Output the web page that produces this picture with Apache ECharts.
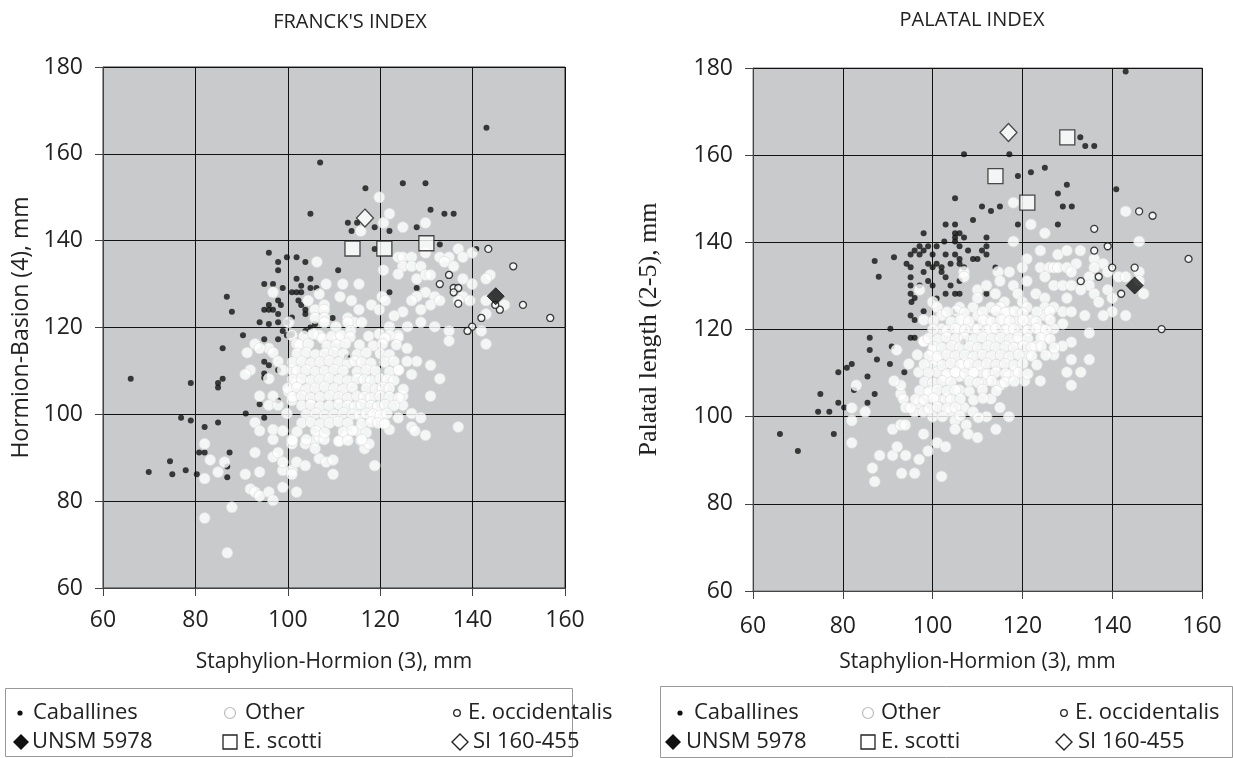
<!DOCTYPE html>
<html><head><meta charset="utf-8">
<script src="https://cdn.jsdelivr.net/npm/echarts/dist/echarts.min.js"></script>
<style>html,body{margin:0;padding:0;background:#fff}#c{width:1233px;height:758px}</style>
</head><body><div id="c"></div>
<script>
// ---------- DATA ----------
const chartTitles = ["FRANCK'S INDEX", "PALATAL INDEX"];
const xAxisName = "Staphylion-Hormion (3), mm";
const yAxisNames = ["Hormion-Basion (4), mm", "Palatal length (2-5), mm"];
const legendLabels = ["Caballines", "Other", "E. occidentalis", "UNSM 5978", "E. scotti", "SI 160-455"];
const xRange = [60, 160];
const yRange = [60, 180];

// Left chart: Franck's index
const cabLeft = [[143,166],[107,158],[116.8,152.1],[124.9,153.2],[129.8,153.2],[104.9,146.2],[130.9,147.1],[133.9,146.2],[135.9,146.2],[113,144.1],[115,144.1],[113.8,142.2],[118.8,143.1],[122,142.2],[127.9,143.1],[118.8,138.1],[132.9,139.1],[140.8,138.1],[95.9,137.2],[97.9,135.1],[97.9,133.2],[99.8,136.2],[101.9,136.2],[103.8,135.1],[110.9,133.2],[94.9,130],[96.8,130],[98.9,129.1],[101.9,131.2],[102.9,129.6],[104.9,131.2],[104.9,129.1],[106.2,129.1],[100.9,128.1],[101.9,128.1],[102.9,128.1],[127.9,129.1],[122,128.1],[86.8,127.1],[87.9,123.6],[97.9,126.2],[98.5,125.2],[95.9,125.2],[94.9,124.1],[95.9,124.1],[96.8,124.1],[97.9,123.1],[102.3,126.2],[102.9,125.2],[103.8,124.1],[100.9,122.3],[103.8,123.1],[93.9,121.2],[95.9,120.8],[97.9,121.2],[99.8,121.2],[98.9,119.2],[100.9,118.5],[103.8,119.2],[104.9,120],[105.9,120.8],[109.7,122.2],[90.3,118.2],[85.9,115.2],[94.9,117.3],[97.9,117.3],[99.8,118.2],[100.6,118.2],[94.9,112.1],[95.9,111.3],[97.9,110.2],[112.8,113.2],[94.9,109.4],[94.9,108.4],[66,108.2],[79,107.2],[84.9,107.2],[84.9,106.2],[85.9,108.2],[97.9,103.2],[93.9,102.3],[90.9,100.2],[94.9,99.2],[76.9,99.2],[79,98.6],[84.9,98.1],[82,97.1],[80.8,91.2],[82,91.2],[87.4,91.2],[74.5,89.2],[77.9,87.1],[69.9,86.7],[75,86.2],[80.3,86.2],[86.9,85.5],[86.9,88]];
const otherLeft = [[119.8,150],[122,146.2],[120.7,144.1],[115.8,142.2],[124.9,143.1],[129.8,144.1],[136.9,138.1],[139.9,137.2],[123.9,136.2],[124.9,136.2],[126.8,136.2],[129.8,137.2],[132.9,136.2],[134.9,136.2],[137.9,136.2],[124.9,134.1],[126.8,134.1],[128.8,134.1],[133.9,135.1],[135.9,134.1],[106.3,135.1],[120.7,133.2],[123.9,132.3],[127.9,131.2],[129.8,132.1],[130.9,132.1],[137.9,131.2],[143.8,132.1],[142.9,131.2],[139.9,130],[108.3,130],[111.9,130],[115.4,130],[96.8,128.1],[106.8,127.7],[129.8,128.1],[131.8,127.1],[127.9,127.1],[137.9,127.1],[139.4,126.2],[142.9,126.2],[104.4,126.2],[107.9,125.2],[111.3,127.1],[113.8,126.2],[120.4,127.1],[121.1,126.2],[118.1,125.2],[126.8,126.2],[130.9,125.2],[132.9,126.2],[146.9,125.2],[136.9,126.2],[105.9,124.1],[107.9,124.1],[115.4,124.1],[119.8,124.1],[124.9,123.6],[128.8,124.1],[142.9,123.1],[105.9,122.2],[107.9,122.2],[113,122.2],[114.4,121.2],[116,121.2],[113,121.2],[123,122.7],[128.8,121.2],[100.2,121.2],[107.9,121.2],[110.4,120.2],[113.6,119.2],[122,120.2],[125.9,120.2],[131.8,120.2],[134.9,119.2],[141.9,119.2],[142.9,116.2],[134.9,116.9],[92.9,116.2],[100.9,118.2],[101.9,116.2],[106.8,118.2],[110.9,117.5],[119.8,118.5],[123.9,118.2],
[91.2,114.2],[91.9,110.2],[90.8,109.2],[95.9,115.2],[93.9,115.2],[96.8,114.2],[97.9,112.2],[98.9,110.2],[100.9,110.2],[95.9,108.2],[101.9,107.2],[100.2,105.2],[100.9,103.2],[96.8,104.2],[93.9,104.2],[95.9,102.1],[97.9,102.1],[99.8,100.2],[92.9,98.1],[93.9,96.2],[96.8,94.2],[96.8,96.5],[98.9,96.2],[100.9,94.2],[100.9,93.2],[92.9,91.2],[96.8,90.2],[97.9,91.2],[98.9,87.1],[100.9,87.1],[100.9,86.2],[93.9,86.7],[90.8,86.2],[91.9,82.8],[92.9,82.1],[93.9,81.2],[95.9,82.1],[96.8,80.2],[98.9,83.2],[101.9,82.1],[98.9,89],[101.9,89],[103.8,88.2],[106.8,89.8],[108.3,89],[109.8,89.5],[109.8,86.2],[103.8,93.2],[105.9,94],[106.8,94.8],[107.9,94.2],[105.9,92.1],[82,93.2],[83.2,89.5],[82,85.2],[84.9,86.7],[86.3,89],[87.9,78.6],[82,76.1],[86.9,68.1],[118.8,88.2],[116.6,92.1],[117.6,93.2],[115.8,94],[112.8,95.2],[111.3,94],[136.9,97.1],[129.8,95.2],[126.8,100.2],[128.8,99.2],[126.8,97.1],[127.5,96.2],[130.9,104.2],[132.9,108.2],[130.9,111.3],[126.8,109.2],[127.9,112.2],[125.8,115.2],[125.8,112.2],[123.9,110.2],[123.9,117.7],[122,118.2],[124.9,104.2],[124.9,102.1],[123.9,99.2],[122,96.5],[120.7,98.1],[119.8,100.2],[118.1,99.2],[115,96.2],
[103.5,118],[105.5,118.5],[107.5,117.5],[109.5,118],[111.5,118.2],[113.5,117.8],[117.5,118],[121,117.5],[102.5,116],[104.5,116.2],[108.5,115.8],[110.5,116],[112.5,116.3],[115.5,116],[118.5,115.8],[120.5,116.2],[123.5,116],[102,114],[104,114.2],[106,113.8],[108,114],[110,114.3],[112,114],[115,113.8],[117,114.2],[120,114],[122,113.8],[101,112],[103,112.2],[105,111.8],[107,112],[109,112.3],[111,112],[113,111.8],[114.5,112.2],[116,112],[118,111.8],[121,112],[123,112.2],[102,110],[104,110.2],[106,109.8],[108,110],[110,110.3],[112,110],[115,109.8],[117,110.2],[119,110],[122,109.8],[124,110.2],[101,108],[103,108.2],[105,107.8],[107,108],[109,108.3],[111,108],[113,107.8],[115,108.2],[116.5,108],[118,107.8],[120,108.2],[121.5,108],[123,107.8],[100,106],[102,106.2],[104,105.8],[106,106],[108,106.3],[110,106],[112,105.8],[114,106.2],[117,106],[119,105.8],[120.5,106.2],[122,106],[125,105.8],[101,104],[103,104.2],[105,103.8],[107,104],[109,104.3],[111,104],[113,103.8],[115,104.2],[116.5,104],[118,103.8],[120,104.2],[122,104],[124,103.8],[103,102],[105,102.2],[107,101.8],[109,102],[111,102.3],[113,102],[114.5,101.8],[116,102.2],[118,102],[119.5,101.8],[121,102.2],[123,102],[104,100],[106,100.2],[108,99.8],[110,100],[112,100.3],[114,100],[115.5,99.8],[117,100.2],[118.5,100],[120,99.8],[121.5,100.2],[103,98],[105,98.2],[107,97.8],[109,98],[111,98.3],[113,98],[116,97.8],[118,98.2],[119.5,98],[121,97.8],[102,96],[106,96.2],[108,95.8],[112,96],[114,96.3],[117,95.8],[101,94],[104,94.2],[111,93.8],[113,94],[116,94.2]];
const occLeft = [[143.4,138.1],[148.8,134.1],[134.9,132.1],[132.9,130],[135.9,129.1],[136.9,129.1],[135.9,128.1],[136.9,125.5],[150.9,125.2],[156.8,122.2],[141.9,122.2],[145.9,124.1],[144.9,125.2],[139.9,120.2],[138.9,119.2]];
const unsmLeft = [[145,127.2]];
const scottiLeft = [[114,138.2],[120.9,138.2],[130,139.4]];
const siLeft = [[116.7,145.2]];

// Right chart: Palatal index
const cabRight = [[143,179.2],[132.9,164.1],[134,162.1],[136,162.1],[107,160.2],[117.1,160.2],[119,155.2],[121.9,156.1],[125,157.1],[129.9,153.2],[127.9,151.2],[140.9,152.2],[105,150.1],[111,148.2],[113,147.2],[115,148.2],[129,148.2],[131,148.2],[109,145.1],[119,144.1],[127.9,144.1],[102.9,144.1],[105,144.1],[98,142.1],[105,142.1],[106,142.1],[102.6,140.2],[105,141.1],[107,141.1],[112,141.1],[97.1,139.1],[99,139.1],[100.9,139.1],[105,140.2],[106,139.1],[107.9,138.1],[112,139.1],[111,138.1],[96,138.1],[98,138.1],[95.1,137.2],[97.1,137.2],[100,137.2],[102.9,137.2],[105,137.2],[106,136.2],[109,136.2],[110,136.2],[112,137.2],[91.4,136.6],[87.1,135.7],[94.2,135.1],[95.1,134.3],[99,135.1],[100,134.3],[100.9,135.1],[102,134.3],[104,135.1],[106,135.1],[107,134.3],[114,134.2],[95.1,132],[98,133.2],[102,133.2],[102.9,132],[88,132.1],[95.1,130.1],[97.1,130.1],[99,131.1],[100,130.1],[104,130.1],[106,131.1],[95.1,128.2],[96,127.2],[102.9,128.2],[105,128.2],[106,128.2],[112,128.2],[95.3,126.3],[100.9,127.1],[95.1,123.2],[96,122.2],[98,124.2],[105,124.2],[90.6,120.2],[86,118.1],[95.1,118.1],[96,118.1],[86,115.3],[90.9,116.1],[87.6,113.1],[82,112.1],[80.9,111.2],[79,110.2],[90.5,112.1],[85.5,109.2],[82.5,106.1],[75,105.2],[87.1,105.2],[79,103.2],[85.5,103.2],[80.3,102.1],[74.5,101.1],[77,101.1],[66,96],[78,96],[70,92.1],[93.7,110.2],[106.8,117.2]];
const otherRight = [[118,149.1],[121.9,144.1],[125,142.1],[118,140.2],[143,147.1],[146,140.2],[124,138.1],[127.9,137.2],[129.9,138.1],[132.9,138.1],[121,136.2],[132,135.1],[136,136.2],[138,135.1],[120,134.2],[124,134.2],[126,134.2],[127,134.2],[127.9,134.2],[129.9,134.2],[136,134.2],[139,133.2],[141.4,132.1],[143,132.1],[146,133.2],[146,131.1],[117.1,133.2],[114.6,133.2],[121,131.1],[125,132.1],[130.9,133.2],[134.9,132.1],[115,131.1],[107,133.2],[107,132.1],[97.1,129.1],[110,129.1],[112,130.1],[118,130.1],[127,130.1],[129,130.1],[130.9,130.1],[134.9,130.1],[139,129.1],[147,128.2],[133,129.1],[136,128.2],[123,128.2],[119,128.2],[114,128.2],[110,127.2],[116,126.3],[120,126.3],[125,127.2],[129.9,127.2],[137,126.3],[140,127.2],[100,126.3],[101,125.1],[106,125.1],[109,125.1],[113,125.1],[115,125.1],[117,124],[121,125.1],[125,125.1],[127,125.1],[129,124.1],[130.9,124.1],[133.9,123.2],[140,124.1],[138,123.2],[143,123.2],[98,122.2],[102,123.2],[107,122.2],[110,123.2],[112,122.2],[116,122.2],[119,122.2],[121.9,122.2],[125,123.2],[129,121.3],[134.9,119.2],[102,120.2],[106,120.2],[109,120.2],[113,120.2],[117,120.2],[120,120.2],[124,120.2],[127,120.2],[130.9,117.1],[98.1,117.3],
[92,115.3],[94.7,112.1],[96.6,114.2],[98,117.3],[100,115.1],[100.9,113.1],[100,112.1],[96.9,110.2],[101,110.2],[102.9,109.2],[106,109.2],[105,110.2],[107,112.1],[109,110.2],[111,110.2],[112,108.2],[115,107.2],[117,109.2],[118,110.2],[120.5,108.2],[124,108.2],[129.9,110.2],[133,110.2],[130.9,107.2],[134.9,113.1],[130.9,113.1],[128.9,116.2],[127,114.2],[125,118.2],[121,114.2],[123,116.2],[119,117.3],[92.9,105.2],[93.5,104],[94,102.1],[96,101.1],[97,103.1],[99,105.2],[98,101.1],[100,100],[101,104.1],[102.9,104.1],[104,101.1],[105,99.1],[106,106.1],[107,102.1],[109,101.1],[112,100],[113,104.1],[115,102.1],[117,100],[114.1,97.1],[105,97.1],[107.5,98.1],[107.9,96],[110,95.2],[98,96],[101,94],[102.9,93.1],[99,92.1],[102,86.3],[97,90.2],[94,91.1],[91.1,91.1],[88.2,91.1],[92.1,93.1],[93.1,87],[96,87],[86.6,88.2],[87.1,85.1],[91.1,97.1],[92.9,98.1],[93.9,98.1],[82,102],[82,99.1],[82,94],[85,101.1],[83,107.2],[92.9,107.2],[91.4,108.2],
[103.2,124],[105.3,124.3],[107.1,123.8],[111.2,124.1],[114.1,124.3],[116.2,123.9],[118.3,124.2],[120.1,123.8],[123.2,124.1],[126.1,124.2],[100.2,122],[104.1,121.8],[106.2,122.2],[108.1,121.9],[111.2,122.1],[113.1,121.8],[115.2,122.2],[117.1,121.9],[120.2,122.1],[123.1,121.8],[126.2,122.2],[100.1,120],[103.2,119.8],[105.1,120.2],[107.2,119.9],[110.1,120.1],[112.2,119.8],[114.1,120.2],[116.2,119.9],[118.1,120.1],[121.2,119.8],[123.1,120.2],[125.2,119.9],[99.1,118],[101.2,117.8],[103.1,118.2],[105.2,117.9],[107.1,118.1],[109.2,117.8],[111.1,118.2],[113.2,117.9],[115.1,118.1],[117.2,117.8],[119.1,118.2],[121.2,117.9],[124.1,118.1],[126.2,117.8],[100.2,116],[102.1,115.8],[104.2,116.2],[106.1,115.9],[108.2,116.1],[110.1,115.8],[112.2,116.2],[114.1,115.9],[116.2,116.1],[118.1,115.8],[120.2,116.2],[122.1,115.9],[124.2,116.1],[127.1,115.8],[99.2,114],[101.1,113.8],[103.2,114.2],[105.1,113.9],[107.2,114.1],[109.1,113.8],[111.2,114.2],[113.1,113.9],[115.2,114.1],[117.1,113.8],[119.2,114.2],[122.1,113.9],[125.2,114.1],[98.1,112],[102.2,111.8],[104.1,112.2],[106.2,111.9],[108.1,112.1],[110.2,111.8],[112.1,112.2],[114.2,111.9],[116.1,112.1],[118.2,111.8],[120.1,112.2],[123.2,111.9],[99.1,110],[103.2,109.8],[105.1,110.2],[107.2,109.9],[109.1,110.1],[112.2,109.8],[114.1,110.2],[116.2,109.9],[119.1,110.1],[121.2,109.8],[98.2,108],[100.1,107.8],[102.2,108.2],[104.1,107.9],[108.2,108.1],[110.1,107.8],[113.2,108.2],[116.1,107.9],[118.2,108.1],[97.1,106],[99.2,105.8],[101.1,106.2],[103.2,105.9],[105.1,106.1],[108.2,105.8],[111.1,106.2],[114.2,105.9],[96.2,104],[98.1,103.8],[100.2,104.2],[104.1,103.9],[106.2,104.1],[109.1,103.8],[111.2,104.2],[95.1,102],[99.2,101.8],[101.1,102.2],[103.2,101.9],[105.1,102.1],[102.2,100],[106.1,100.2],[110.2,99.8]];
const occRight = [[136,143.1],[146,147.1],[149,146.1],[157,136.2],[136,138.1],[139,139.1],[140,134.2],[145,134.2],[137,132.1],[133,131.1],[142,128.2],[151,120.1]];
const unsmRight = [[145,130.1]];
const scottiRight = [[114,155.2],[121.1,149.1],[130,164.1]];
const siRight = [[116.9,165.2]];

// ---------- CHART ----------
const FONT = "'Open Sans', 'DejaVu Sans', sans-serif";
const SERIF = "'Liberation Serif', 'DejaVu Serif', serif";
const grids = [
  {left:103, top:67, width:462, height:521, show:true, backgroundColor:'#c9cacc', borderColor:'#333', borderWidth:1},
  {left:753, top:68, width:449, height:523, show:true, backgroundColor:'#c9cacc', borderColor:'#777', borderWidth:1}
];
function xAx(i, margin, gap){
  return {type:'value', gridIndex:i, min:xRange[0], max:xRange[1], interval:20,
    name:xAxisName, nameLocation:'middle', nameGap:gap,
    nameTextStyle:{fontSize:21, color:'#222', fontFamily:FONT},
    axisLine:{show:true, onZero:false, lineStyle:{color:'#444', width:1}},
    axisTick:{show:true, length:8, lineStyle:{color:'#444'}},
    axisLabel:{fontSize:23, margin:margin, color:'#222', fontFamily:FONT},
    splitLine:{show:true, lineStyle:{color:'#111', width:1}}};
}
function yAx(i, gap, fam, size){
  return {type:'value', gridIndex:i, min:yRange[0], max:yRange[1], interval:20,
    name:yAxisNames[i], nameLocation:'middle', nameGap:gap,
    nameTextStyle:{fontSize:size, color:'#222', fontFamily:fam},
    axisLine:{show:true, onZero:false, lineStyle:{color:'#444', width:1}},
    axisTick:{show:true, length:8, lineStyle:{color:'#444'}},
    axisLabel:{fontSize:23, margin:20, color:'#222', fontFamily:FONT},
    splitLine:{show:true, lineStyle:{color:'#111', width:1}}};
}
function sets(i, cab, oth, occ, unsm, sco, si){
  return [
    {name:legendLabels[0], type:'scatter', xAxisIndex:i, yAxisIndex:i, data:cab, symbol:'circle', symbolSize:6, itemStyle:{color:'#111'}, z:2},
    {name:legendLabels[1], type:'scatter', xAxisIndex:i, yAxisIndex:i, data:oth, symbol:'circle', symbolSize:11, itemStyle:{color:'#ffffff', borderColor:'#dcdcdc', borderWidth:0.8}, z:3},
    {name:legendLabels[2], type:'scatter', xAxisIndex:i, yAxisIndex:i, data:occ, symbol:'circle', symbolSize:7, itemStyle:{color:'#ffffff', borderColor:'#111', borderWidth:1.3}, z:4},
    {name:legendLabels[3], type:'scatter', xAxisIndex:i, yAxisIndex:i, data:unsm, symbol:'diamond', symbolSize:[17,17], itemStyle:{color:'#111', borderColor:'#111', borderWidth:1}, z:5},
    {name:legendLabels[4], type:'scatter', xAxisIndex:i, yAxisIndex:i, data:sco, symbol:'rect', symbolSize:15, itemStyle:{color:'#ffffff', borderColor:'#222', borderWidth:1.3}, z:5},
    {name:legendLabels[5], type:'scatter', xAxisIndex:i, yAxisIndex:i, data:si, symbol:'diamond', symbolSize:[17,18], itemStyle:{color:'#ffffff', borderColor:'#222', borderWidth:1.3}, z:5}
  ];
}

// legend drawn as graphic
function legendGraphics(box, rows, symX, txtX){
  const g = [];
  g.push({type:'rect', shape:box, style:{fill:'#fff', stroke:'#999', lineWidth:1}, z:10});
  const ts = {fontSize:22, fontFamily:FONT, fill:'#222', verticalAlign:'middle', textAlign:'left'};
  for (let k=0;k<6;k++){
    const r = k<3?0:1, c = k%3;
    const cx = symX[r][c], cy = rows[r];
    g.push({type:'text', x:txtX[r][c], y:cy, style:Object.assign({text:legendLabels[k]}, ts), z:11});
    let shp;
    if (k===0) shp = {type:'circle', shape:{cx:cx, cy:cy, r:2.6}, style:{fill:'#111'}};
    else if (k===1) shp = {type:'circle', shape:{cx:cx, cy:cy, r:5.5}, style:{fill:'#fff', stroke:'#bbb', lineWidth:1.2}};
    else if (k===2) shp = {type:'circle', shape:{cx:cx, cy:cy, r:3.3}, style:{fill:'#fff', stroke:'#222', lineWidth:1.3}};
    else if (k===3) shp = {type:'polygon', shape:{points:[[cx,cy-8],[cx+8,cy],[cx,cy+8],[cx-8,cy]]}, style:{fill:'#111'}};
    else if (k===4) shp = {type:'rect', shape:{x:cx-7, y:cy-7, width:14, height:14}, style:{fill:'#fff', stroke:'#222', lineWidth:1.3}};
    else shp = {type:'polygon', shape:{points:[[cx,cy-8],[cx+8,cy],[cx,cy+8],[cx-8,cy]]}, style:{fill:'#fff', stroke:'#222', lineWidth:1.4}};
    shp.z = 11; g.push(shp);
  }
  return g;
}

const graphics = [
  {type:'text', x:350, y:22, style:{text:chartTitles[0], fontSize:20, fontFamily:FONT, fill:'#222', textAlign:'center', verticalAlign:'middle'}},
  {type:'text', x:972, y:20, style:{text:chartTitles[1], fontSize:20, fontFamily:FONT, fill:'#222', textAlign:'center', verticalAlign:'middle'}}
].concat(
  legendGraphics({x:5.5, y:688.5, width:567, height:68}, [713, 742],
    [[20,230,457],[21,230,460]], [[33,245,468],[32,243,473]]),
  legendGraphics({x:660.5, y:686.5, width:572, height:71}, [713, 742],
    [[680,868,1064],[673,868,1064]], [[694,881,1075],[686,881,1078]])
);

const chart = echarts.init(document.getElementById('c'), null, {renderer:'canvas'});
chart.setOption({
  animation:false,
  backgroundColor:'#ffffff',
  grid:grids,
  xAxis:[xAx(0, 21, 64), xAx(1, 24, 61)],
  yAxis:[yAx(0, 70, FONT, 23), yAx(1, 91, SERIF, 26)],
  series:[].concat(
    sets(0, cabLeft, otherLeft, occLeft, unsmLeft, scottiLeft, siLeft),
    sets(1, cabRight, otherRight, occRight, unsmRight, scottiRight, siRight)
  ),
  graphic:graphics
});
</script>
</body></html>
